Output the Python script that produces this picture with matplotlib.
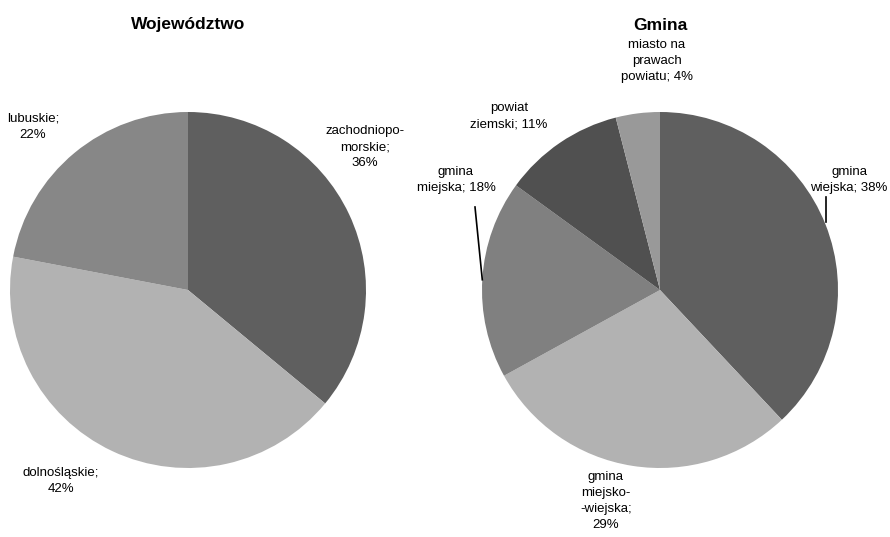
import numpy as np
import matplotlib
matplotlib.use('Agg')
import matplotlib.pyplot as plt

plt.rcParams['font.family'] = ['Liberation Sans Narrow', 'Liberation Sans', 'DejaVu Sans']

woj_labels = ['zachodniopo-\nmorskie;\n36%', 'dolnośląskie;\n42%', 'lubuskie;\n22%']
woj_values = [36, 42, 22]
woj_colors = ['#5f5f5f', '#b2b2b2', '#878787']

gm_labels = ['gmina\nwiejska; 38%', 'gmina\nmiejsko-\n-wiejska;\n29%', 'gmina\nmiejska; 18%',
             'powiat\nziemski; 11%', 'miasto na\nprawach\npowiatu; 4%']
gm_values = [38, 29, 18, 11, 4]
gm_colors = ['#5f5f5f', '#b2b2b2', '#808080', '#505050', '#999999']

W, H = 890, 537
fig = plt.figure(figsize=(W / 100, H / 100), dpi=100)
ax = fig.add_axes([0, 0, 1, 1])

r = 178
c1 = (188, 290)
c2 = (660, 290)

# y axis is inverted, so counterclock=True draws clockwise on screen; start at top
ax.pie(woj_values, colors=woj_colors, center=c1, radius=r, startangle=-90,
       counterclock=True, frame=True)
ax.pie(gm_values, colors=gm_colors, center=c2, radius=r, startangle=-90,
       counterclock=True, frame=True)
ax.set_xlim(0, W)
ax.set_ylim(H, 0)
ax.axis('off')

ax.text(188, 25, 'Województwo', ha='center', va='center', fontsize=12.5, fontweight='bold')
ax.text(660, 25, 'Gmina', ha='center', va='center', fontsize=12.5, fontweight='bold')

fs = 9.5
ls = 1.45
woj_pos = [(365, 147), (61, 481), (33, 127)]
for lab, (x, y) in zip(woj_labels, woj_pos):
    ax.text(x, y, lab, ha='center', va='center', fontsize=fs, linespacing=ls)

gm_pos = [(849, 180), (606, 501), (456, 180), (509, 116), (657, 61)]
for lab, (x, y) in zip(gm_labels, gm_pos):
    ax.text(x, y, lab, ha='center', va='center', fontsize=fs, linespacing=ls)

# leader lines to pie edge
def edge(center, ang):
    a = np.deg2rad(ang)
    return center[0] + r * np.cos(a), center[1] - r * np.sin(a)

ex, ey = edge(c2, 22.4)
ax.plot([ex + 1, ex + 1], [197, ey], color='black', lw=1.2)
ex, ey = edge(c2, 176.7)
ax.plot([475, ex], [207, ey], color='black', lw=1.2)

fig.savefig('out.png', dpi=100)
